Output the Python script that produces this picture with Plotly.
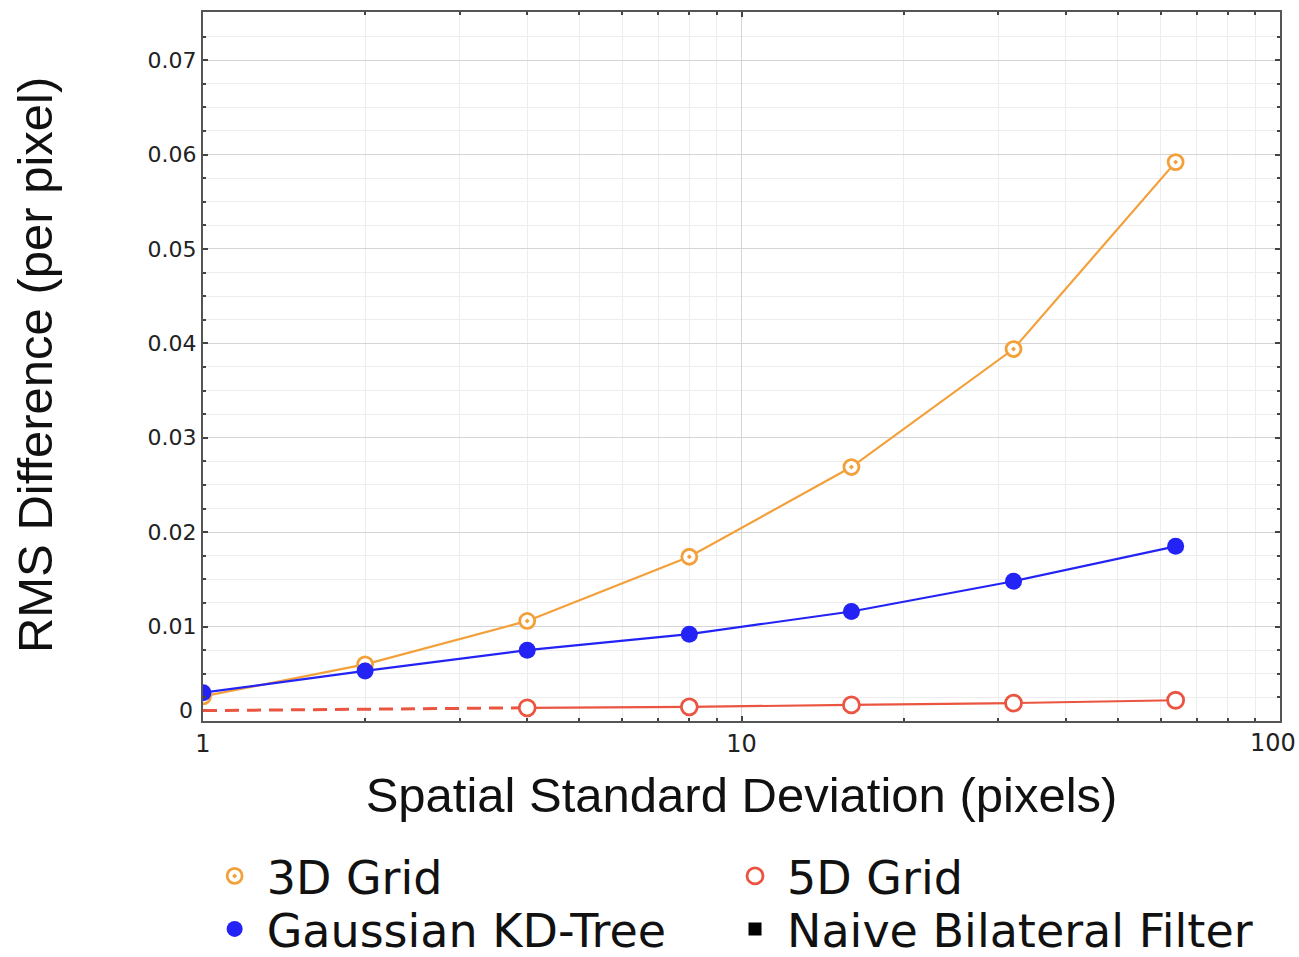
import plotly.graph_objects as go

# Spatial standard deviation (pixels) for each filter run
sigma = [1, 2, 4, 8, 16, 32, 64]

# RMS difference per pixel against the naive bilateral filter
grid3d = [0.0026, 0.0060, 0.0106, 0.0174, 0.0269, 0.0394, 0.0592]
kdtree = [0.0030, 0.0053, 0.0075, 0.0092, 0.0116, 0.0148, 0.0185]

# 5D grid: measured for sigma >= 4, extrapolated (dashed) below that
sigma_5d = [4, 8, 16, 32, 64]
grid5d = [0.0014, 0.0015, 0.0017, 0.0019, 0.0022]
sigma_5d_ext = [1, 4]
grid5d_ext = [0.0011, 0.0014]

# Naive bilateral filter is the reference itself: legend entry only
naive_x = [None]
naive_y = [None]

# Axis ticks
x_tickvals = [1, 10, 100]
x_ticktext = ["1", "10", "100"]
y_tickvals = [0, 0.01, 0.02, 0.03, 0.04, 0.05, 0.06, 0.07]
y_ticktext = ["0", "0.01", "0.02", "0.03", "0.04", "0.05", "0.06", "0.07"]

ORANGE = "#f3a03a"
BLUE = "#2323f5"
RED = "#ea5440"

marker_3d = dict(symbol="circle-dot", size=15, color="white",
                 line=dict(color=ORANGE, width=2.8))
marker_kd = dict(symbol="circle", size=17, color=BLUE)
marker_5d = dict(symbol="circle", size=16, color="white",
                 line=dict(color=RED, width=2.8))
marker_naive = dict(symbol="square", size=13, color="black")

fig = go.Figure()

fig.add_trace(go.Scatter(
    x=sigma_5d_ext, y=grid5d_ext, mode="lines",
    line=dict(color=RED, width=3, dash="14px,8px"),
    showlegend=False, hoverinfo="skip",
))
fig.add_trace(go.Scatter(
    x=sigma_5d, y=grid5d, mode="lines+markers", name="5D Grid",
    line=dict(color=RED, width=2.2), marker=marker_5d, showlegend=False,
))
fig.add_trace(go.Scatter(
    x=sigma, y=grid3d, mode="lines+markers", name="3D Grid",
    line=dict(color=ORANGE, width=2.2), marker=marker_3d, showlegend=False,
))
fig.add_trace(go.Scatter(
    x=sigma, y=kdtree, mode="lines+markers", name="Gaussian KD-Tree",
    line=dict(color=BLUE, width=2.2), marker=marker_kd, showlegend=False,
))

# Marker-only legend entries, one small legend per cell of the 2x2 key
key = [
    ("3D Grid", marker_3d, "legend"),
    ("Gaussian KD-Tree", marker_kd, "legend2"),
    ("5D Grid", marker_5d, "legend3"),
    ("Naive Bilateral Filter", marker_naive, "legend4"),
]
for name, mk, lg in key:
    fig.add_trace(go.Scatter(
        x=naive_x, y=naive_y, mode="markers", name=name,
        marker=mk, legend=lg, showlegend=True,
    ))

axis_common = dict(
    showline=True, linecolor="#555555", linewidth=2, mirror="allticks",
    ticks="inside", ticklen=5, tickwidth=1.5, tickcolor="#444444",
    gridcolor="#d4d4d4", gridwidth=1, zeroline=False,
)
tick_font_x = dict(family="DejaVu Sans", size=24, color="#222222")
tick_font_y = dict(family="DejaVu Sans", size=22, color="#222222")

# The end labels ("0" and "100") are nudged inward so they stay on the page
fig.update_xaxes(
    type="log", range=[0, 2], tickmode="array",
    tickvals=x_tickvals, ticktext=x_ticktext[:-1] + [""],
    tickfont=tick_font_x,
    title=dict(text="Spatial Standard Deviation (pixels)",
               font=dict(family="Liberation Sans", size=49, color="#111111"),
               standoff=21),
    minor=dict(dtick="D1", ticks="inside", ticklen=3, tickcolor="#444444",
               showgrid=True, gridcolor="#ededed", gridwidth=1),
    **axis_common,
)
fig.update_yaxes(
    range=[0, 0.0751], tickmode="array",
    tickvals=y_tickvals, ticktext=[""] + y_ticktext[1:],
    tickfont=tick_font_y,
    minor=dict(dtick=0.0025, ticks="inside", ticklen=3, tickcolor="#444444",
               showgrid=True, gridcolor="#ededed", gridwidth=1),
    **axis_common,
)
fig.add_annotation(
    text=x_ticktext[-1], xref="x", yref="paper", x=2, y=0,
    xanchor="right", yanchor="top", xshift=18, yshift=-6,
    showarrow=False, font=tick_font_x,
)
fig.add_annotation(
    text=y_ticktext[0], xref="paper", yref="y", x=0, y=y_tickvals[0],
    xanchor="right", yanchor="middle", xshift=-8, yshift=11,
    showarrow=False, font=tick_font_y,
)

# Vertical axis title placed as a rotated annotation left of the tick labels
fig.add_annotation(
    text="RMS Difference (per pixel)", textangle=-90,
    xref="paper", yref="paper", x=(35 - 203) / 1077, y=0.502,
    xanchor="center", yanchor="middle", showarrow=False,
    font=dict(family="Liberation Sans", size=49, color="#111111"),
)

legend_font = dict(family="DejaVu Sans", size=46, color="#111111")


def key_box(x, y):
    return dict(x=x, y=y, xref="container", yref="container",
                xanchor="left", yanchor="middle", font=legend_font,
                bgcolor="rgba(0,0,0,0)", itemsizing="trace", itemwidth=54)


fig.update_layout(
    width=1299, height=957,
    margin=dict(l=203, r=19, t=12, b=236, autoexpand=False),
    paper_bgcolor="white", plot_bgcolor="white",
    legend=key_box(0.156, 1 - 876 / 957),
    legend2=key_box(0.156, 1 - 929 / 957),
    legend3=key_box(0.5566, 1 - 876 / 957),
    legend4=key_box(0.5566, 1 - 929 / 957),
    showlegend=True,
)

fig.write_html("out.html")
